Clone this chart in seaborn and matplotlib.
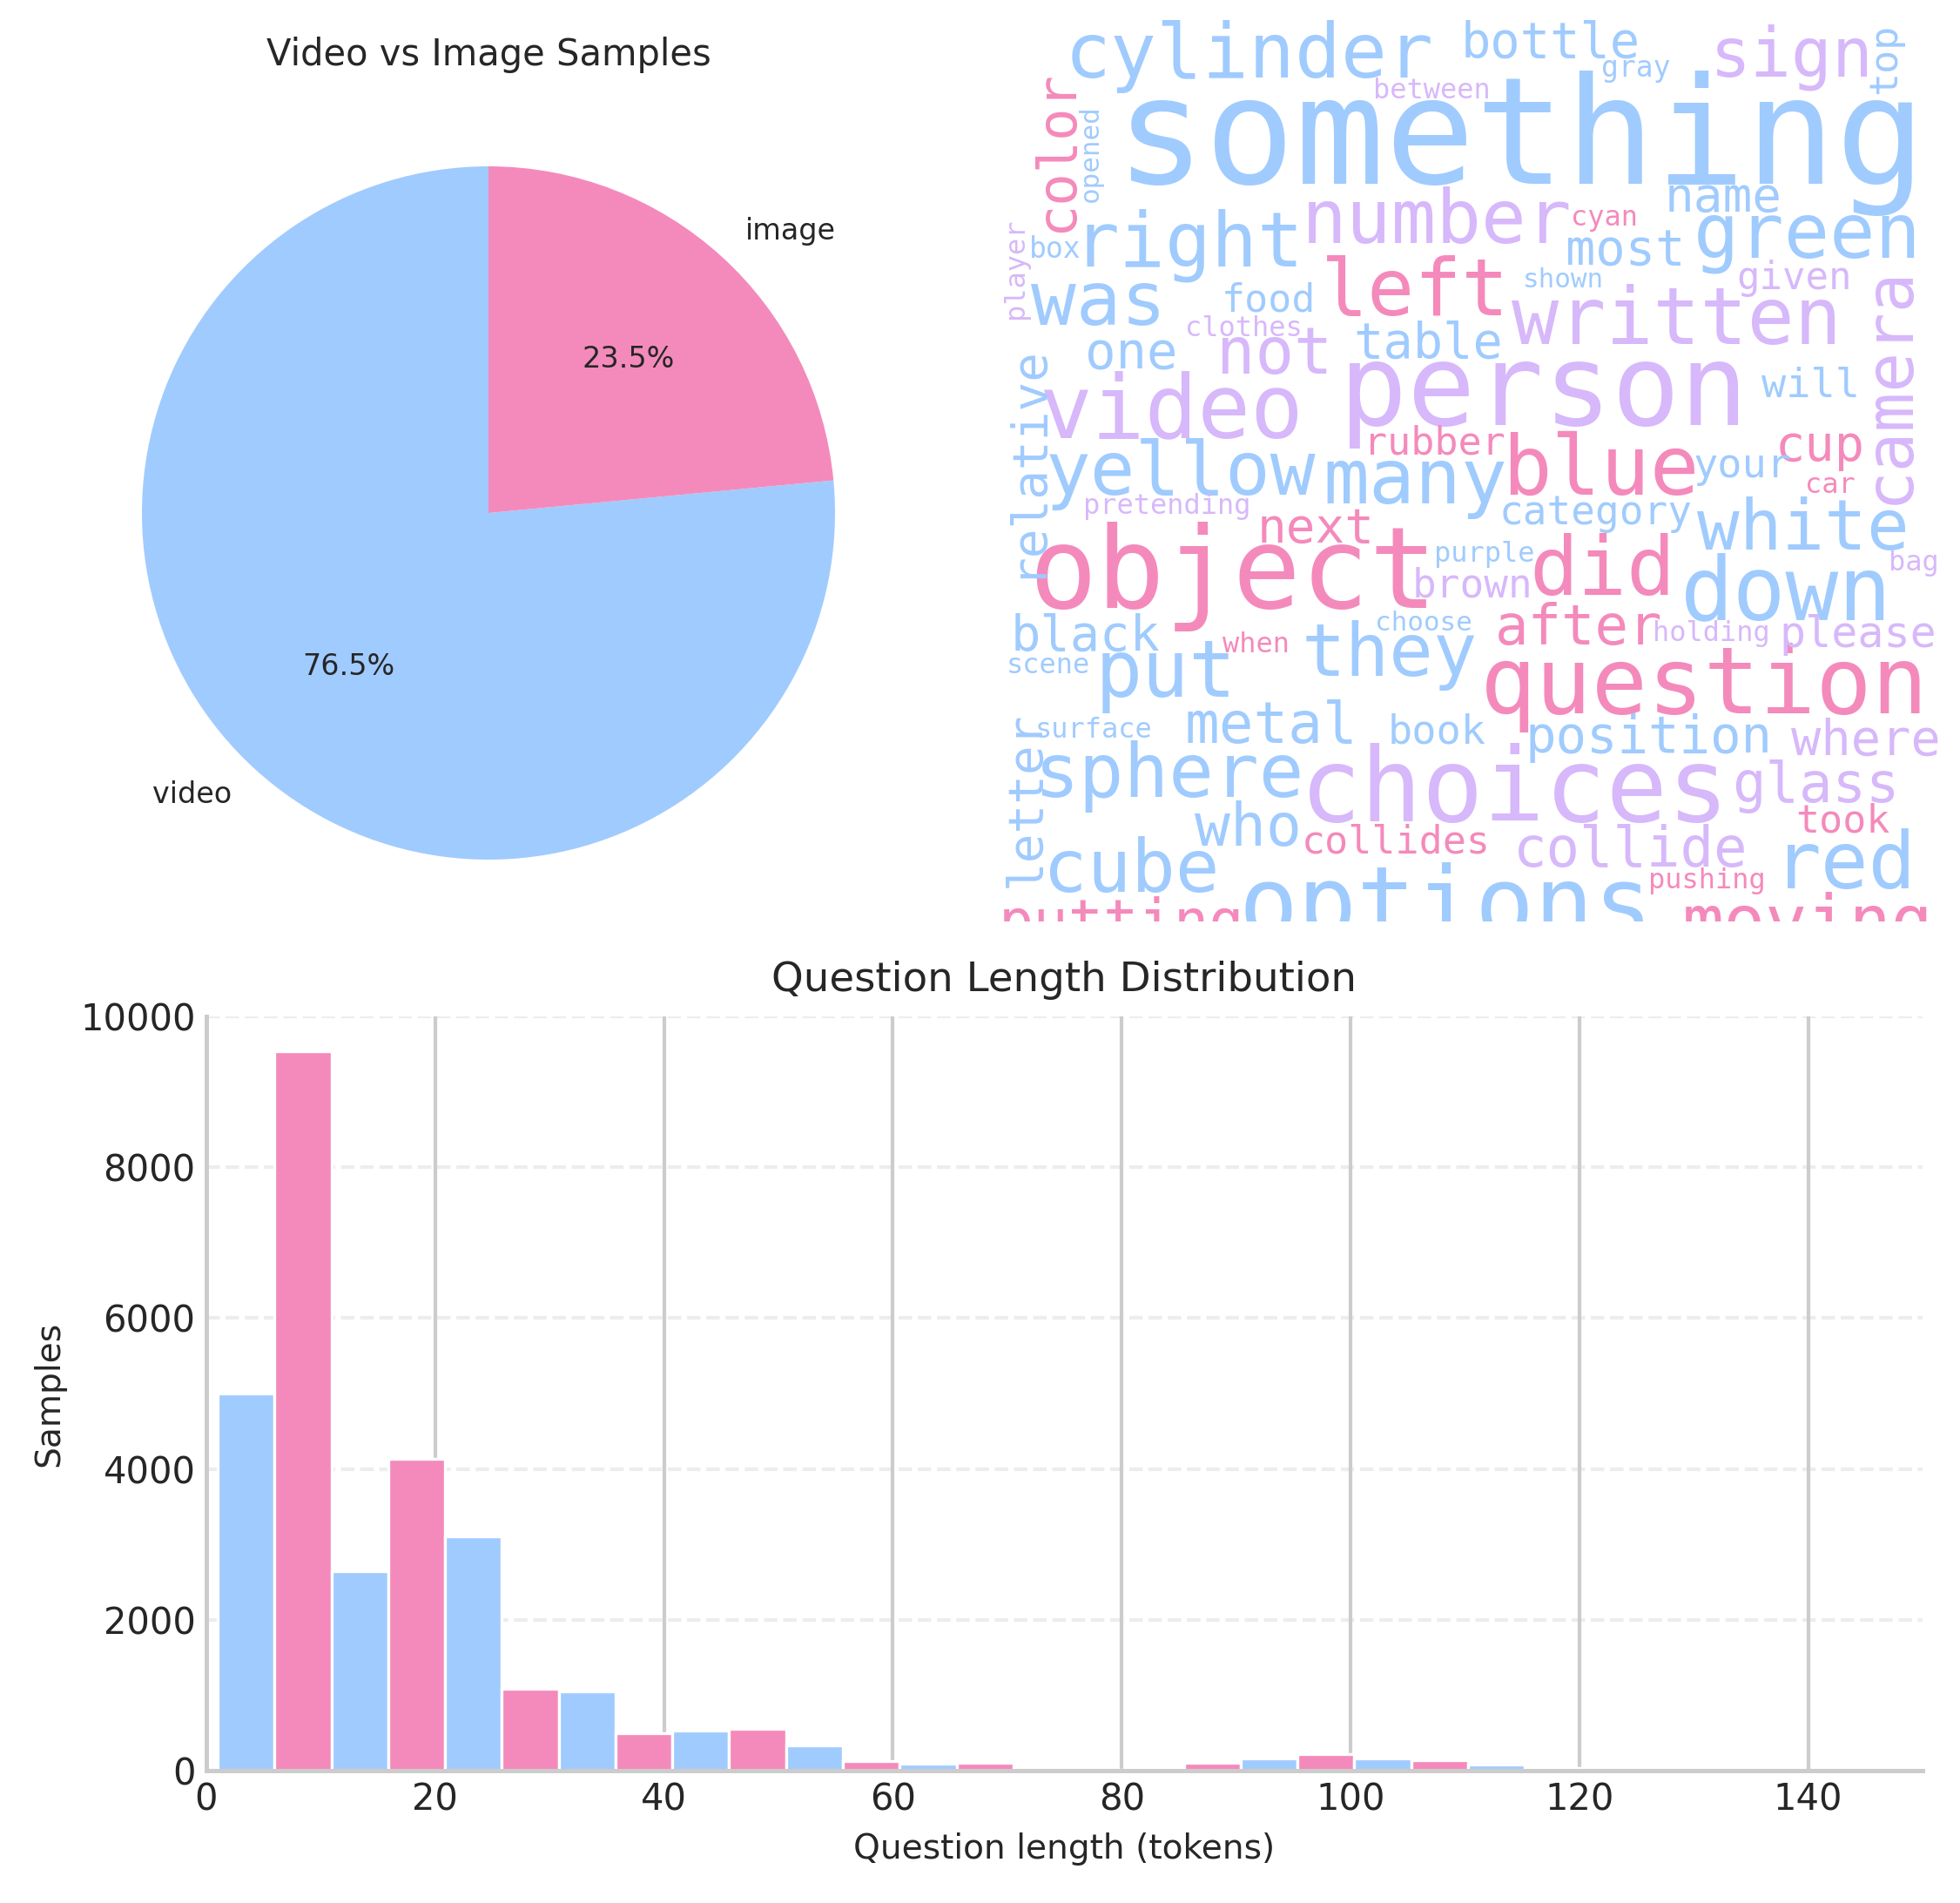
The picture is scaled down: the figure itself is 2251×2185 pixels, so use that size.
"""
Dataset overview figure: modality split, question word cloud and
question length histogram.
"""

import numpy as np
import pandas as pd
import matplotlib
matplotlib.use('Agg')
import matplotlib.pyplot as plt
import seaborn as sns


# pie data
modalities = ['video', 'image']
modality_share = [76.5, 23.5]

# question length histogram (30 bins between 1 and 150 tokens)
length_min, length_max, n_bins = 1, 150, 30
bin_counts = [5000, 9540, 2640, 4130, 3110, 1090, 1050, 500, 530, 550,
              335, 125, 90, 106, 15, 8, 45, 100, 165, 225,
              165, 135, 85, 35, 10, 3, 2, 1, 2, 10]

# word cloud words, their colour group and where the layout put them
cloud_words = ['something', 'person', 'object', 'choices', 'options', 'question',
               'cylinder', 'video', 'down', 'blue', 'did', 'red', 'put', 'left',
               'written', 'green', 'right', 'number', 'many', 'yellow', 'was',
               'sphere', 'cube', 'they', 'white', 'sign', 'not', 'camera',
               'putting', 'moving', 'after', 'metal', 'collide', 'glass', 'who',
               'one', 'position', 'table', 'where', 'black', 'relative', 'letter',
               'next', 'bottle', 'most', 'name', 'cup', 'color', 'given', 'will',
               'category', 'please', 'took', 'food', 'brown', 'rubber', 'your',
               'book', 'collides', 'between', 'gray', 'cyan', 'shown', 'box',
               'player', 'opened', 'clothes', 'pretending', 'purple', 'bag', 'car',
               'holding', 'choose', 'when', 'scene', 'surface', 'pushing', 'top']
cloud_tone = ['b', 'p', 'k', 'p', 'b', 'k',
              'b', 'p', 'b', 'k', 'k', 'b', 'b', 'k',
              'p', 'b', 'b', 'p', 'b', 'b', 'b',
              'b', 'b', 'b', 'b', 'p', 'p', 'p',
              'k', 'k', 'k', 'b', 'p', 'p', 'b',
              'b', 'b', 'b', 'p', 'b', 'b', 'b',
              'k', 'b', 'b', 'b', 'k', 'k', 'p', 'b',
              'b', 'p', 'k', 'b', 'p', 'k', 'b',
              'b', 'k', 'p', 'b', 'k', 'b', 'b',
              'p', 'b', 'p', 'p', 'b', 'p', 'k',
              'p', 'b', 'k', 'b', 'b', 'k', 'b']
# (x, baseline, size px, rotation) in output pixels
cloud_layout = [(1292, 211, 172, 0), (1547, 488, 130, 0), (1190, 698, 130, 0),
                (1501, 943, 117, 0), (1430, 1075, 113, 0), (1707, 819, 107, 0),
                (1229, 89, 88, 0), (1200, 502, 101, 0), (1937, 711, 101, 0),
                (1732, 568, 94, 0), (1763, 683, 93, 0), (2043, 1020, 91, 0),
                (1264, 800, 90, 0), (1523, 362, 90, 0), (1742, 395, 90, 0),
                (1951, 296, 87, 0), (1239, 305, 88, 0), (1501, 279, 86, 0),
                (1526, 578, 88, 0), (1207, 568, 86, 0), (1190, 373, 86, 0),
                (1193, 915, 86, 0), (1204, 1024, 84, 0), (1501, 776, 84, 0),
                (1955, 631, 81, 0), (1969, 88, 78, 0), (1402, 429, 74, 0),
                (2191, 574, 76, 90), (1151, 1081, 67, 0), (1937, 1084, 80, 0),
                (1721, 740, 64, 0), (1365, 853, 66, 0), (1742, 995, 64, 0),
                (1994, 921, 64, 0), (1377, 971, 68, 0), (1250, 423, 59, 0),
                (1756, 864, 59, 0), (1558, 411, 57, 0), (2061, 867, 57, 0),
                (1165, 747, 57, 0), (1193, 660, 56, 90), (1193, 1015, 56, 90),
                (1448, 623, 56, 0), (1682, 66, 57, 0), (1802, 305, 57, 0),
                (1916, 243, 56, 0), (2043, 529, 57, 0), (1231, 263, 62, 90),
                (1997, 332, 44, 0), (2026, 456, 47, 0), (1725, 602, 46, 0),
                (2047, 743, 50, 0), (2065, 955, 45, 0), (1406, 357, 45, 0),
                (1625, 685, 46, 0), (1569, 522, 45, 0), (1948, 548, 47, 0),
                (1597, 853, 47, 0), (1498, 979, 45, 0), (1579, 113, 32, 0),
                (1841, 88, 33, 0), (1806, 259, 32, 0), (1751, 330, 31, 0),
                (1184, 296, 33, 0), (1175, 364, 32, 90), (1261, 230, 31, 90),
                (1363, 386, 32, 0), (1246, 590, 32, 0), (1649, 645, 32, 0),
                (2171, 655, 32, 0), (2075, 566, 32, 0), (1900, 736, 32, 0),
                (1581, 724, 31, 0), (1406, 749, 32, 0), (1158, 773, 32, 0),
                (1191, 847, 32, 0), (1895, 1020, 32, 0), (2177, 105, 45, 90)]

BLUE = '#a0cbfe'
PINK = '#f48abb'
LAVENDER = '#d7b8fa'
TONES = {'b': BLUE, 'p': LAVENDER, 'k': PINK}

W, H, DPI = 2251, 2185, 300


def px_axes(fig, x0, y0, x1, y1):
    # axes from output pixel box
    return fig.add_axes([x0 / W, 1 - y1 / H, (x1 - x0) / W, (y1 - y0) / H])


def draw_pie(fig):
    r = 398
    cx, cy = 561, 589
    ax = px_axes(fig, cx - 1.25 * r, cy - 1.25 * r, cx + 1.25 * r, cy + 1.25 * r)
    ax.pie(modality_share, labels=modalities, colors=[BLUE, PINK],
           autopct='%1.1f%%', startangle=90,
           wedgeprops={'linewidth': 0},
           textprops={'fontsize': 8, 'color': '#262626'})
    ax.set_title('Video vs Image Samples', fontsize=10, color='#262626', pad=4)


def draw_cloud(fig):
    x0, y0, x1, y1 = 1148, 15, 2232, 1058
    ax = px_axes(fig, x0, y0, x1, y1)
    ax.set_xlim(x0, x1)
    ax.set_ylim(y1, y0)
    ax.axis('off')
    for word, tone, (x, y, size, rot) in zip(cloud_words, cloud_tone, cloud_layout):
        pad = 0.07 * size
        if rot:
            x_a, y_a = x, y + pad
        else:
            x_a, y_a = x - pad, y
        ax.text(x_a, y_a, word, fontsize=size * 72 / DPI, color=TONES[tone],
                family='DejaVu Sans Mono', rotation=rot, rotation_mode='anchor',
                ha='left', va='baseline', clip_on=True)


def draw_hist(fig):
    ax = px_axes(fig, 237, 1167, 2208, 2033)
    edges = np.linspace(length_min, length_max, n_bins + 1)
    lengths = pd.DataFrame({
        'length': (edges[:-1] + edges[1:]) / 2,
        'count': bin_counts,
    })
    sns.histplot(data=lengths, x='length', weights='count', bins=edges.tolist(),
                 ax=ax, edgecolor='white', linewidth=0.8, alpha=0.95)
    for i, patch in enumerate(ax.patches):
        patch.set_facecolor([BLUE, PINK][i % 2])

    ax.set_xlim(0, 150)
    ax.set_ylim(0, 10000)
    ax.yaxis.grid(True, linestyle='--', alpha=0.35)
    ax.xaxis.grid(True, color='#cccccc', linewidth=1)
    sns.despine(ax=ax)
    for side in ['left', 'bottom']:
        ax.spines[side].set_color('#cccccc')
        ax.spines[side].set_linewidth(1.2)
    ax.tick_params(labelsize=10, colors='#262626', length=0, pad=3)
    ax.set_title('Question Length Distribution', fontsize=11.2, color='#262626', pad=7)
    ax.set_xlabel('Question length (tokens)', fontsize=9.4, color='#262626')
    ax.set_ylabel('Samples', fontsize=9.4, color='#262626')


def main():
    sns.set_theme(style='whitegrid')
    plt.rcParams['font.family'] = ['DejaVu Sans']
    fig = plt.figure(figsize=(W / DPI, H / DPI), dpi=DPI)
    draw_pie(fig)
    draw_cloud(fig)
    draw_hist(fig)
    fig.savefig('out.png', dpi=DPI)
    plt.close(fig)


if __name__ == '__main__':
    main()
